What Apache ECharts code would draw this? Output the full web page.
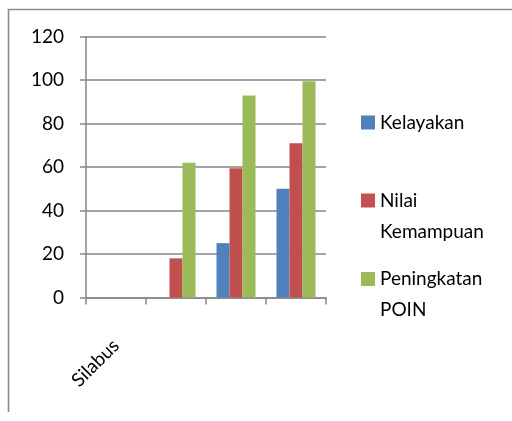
<!DOCTYPE html>
<html>
<head>
<meta charset="utf-8">
<script src="https://cdn.jsdelivr.net/npm/echarts@6/dist/echarts.min.js"></script>
<style>
html,body{margin:0;padding:0;background:#fff;}
#c{width:512px;height:421px;}
</style>
</head>
<body>
<div id="c"></div>
<script>
var categories = ['Silabus', '', '', ''];
var kelayakan = [0, 0, 25, 50];
var nilaiKemampuan = [0, 18, 59.5, 71];
var peningkatanPoin = [0, 62, 93, 99.5];
var yTicks = [0, 20, 40, 60, 80, 100, 120];

var FONT = 'Lato';
var chart = echarts.init(document.getElementById('c'));
function legendBox(name, top, twoLine) {
  return {
    data: [name],
    orient: 'vertical',
    left: 361,
    top: top,
    padding: 0,
    itemWidth: 14,
    itemHeight: 14,
    itemGap: 0,
    icon: 'rect',
    selectedMode: false,
    formatter: function (n) { return twoLine ? ' \n' + n.replace(' ', '\n') : n; },
    textStyle: {
      fontFamily: FONT,
      fontSize: 19,
      color: '#000',
      lineHeight: 31
    }
  };
}
chart.setOption({
  animation: false,
  backgroundColor: '#fff',
  graphic: [{
    type: 'polyline',
    shape: { points: [[8.5, 412], [8.5, 9.5], [520, 9.5]] },
    style: { stroke: '#8a8a8a', lineWidth: 1.6, fill: null }
  }],
  grid: { left: 86, right: 186, top: 36.7, bottom: 123.5, containLabel: false },
  legend: [
    legendBox('Kelayakan', 107, false),
    legendBox('Nilai Kemampuan', 154, true),
    legendBox('Peningkatan POIN', 232.5, true)
  ],
  xAxis: {
    type: 'category',
    data: categories,
    axisLine: { lineStyle: { color: '#868686', width: 1.5 } },
    axisTick: { show: true, length: 7, alignWithLabel: false, lineStyle: { color: '#868686', width: 1.5 } },
    axisLabel: { rotate: 45, margin: 45, fontFamily: FONT, fontSize: 19, color: '#000', interval: 0 }
  },
  yAxis: {
    type: 'value',
    min: yTicks[0],
    max: yTicks[yTicks.length - 1],
    interval: 20,
    axisLine: { show: true, lineStyle: { color: '#868686', width: 1.5 } },
    axisTick: { show: true, length: 6, lineStyle: { color: '#868686', width: 1.5 } },
    splitLine: { show: true, lineStyle: { color: '#868686', width: 1.5 } },
    axisLabel: { margin: 22, fontFamily: FONT, fontSize: 19, color: '#000' }
  },
  series: [
    { name: 'Kelayakan', type: 'bar', data: kelayakan, barWidth: 13, barGap: '0%',
      itemStyle: { color: '#4F81BD' } },
    { name: 'Nilai Kemampuan', type: 'bar', data: nilaiKemampuan, barWidth: 13, barGap: '0%',
      itemStyle: { color: '#C0504D' } },
    { name: 'Peningkatan POIN', type: 'bar', data: peningkatanPoin, barWidth: 13, barGap: '0%',
      itemStyle: { color: '#9BBB59' } }
  ]
});
</script>
</body>
</html>
